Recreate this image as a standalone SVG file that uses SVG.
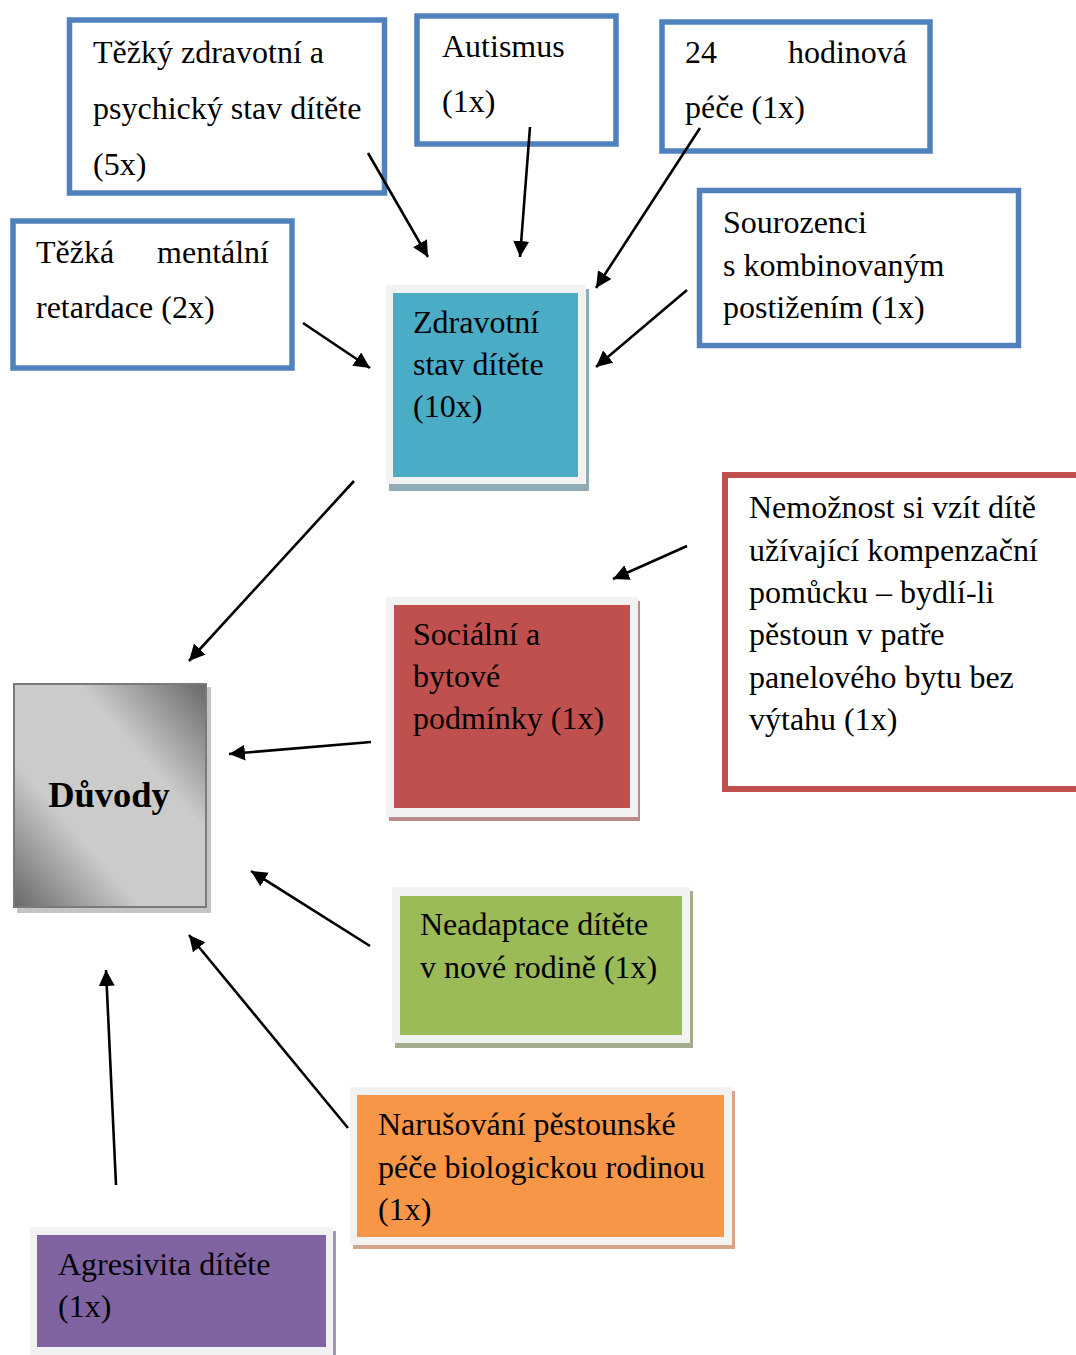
<svg xmlns="http://www.w3.org/2000/svg" width="1076" height="1355" viewBox="0 0 1076 1355">
  <style>
    text { font-family: "Liberation Serif", "Times New Roman", serif; font-size: 32px; fill: #000; }
    .outline-blue { fill: #fff; stroke: #4f81bd; stroke-width: 5.5; }
    .outline-red { fill: #fff; stroke: #c0504d; stroke-width: 6; }
    .frame { fill: #f2f2f2; }
    .conn { stroke: #000; stroke-width: 2.6; fill: none; marker-end: url(#arrow); }
    .title { font-size: 36.5px; font-weight: bold; text-anchor: middle; }
  </style>
  <defs>
    <marker id="arrow" markerUnits="userSpaceOnUse" markerWidth="17" markerHeight="17" refX="16" refY="8" orient="auto">
      <path d="M0,0 L16,8 L0,16 z" fill="#000"/>
    </marker>
    <linearGradient id="grayDiag" x1="1" y1="0" x2="0" y2="1">
      <stop offset="0" stop-color="#686868"/>
      <stop offset="0.33" stop-color="#cbcbcb"/>
      <stop offset="0.67" stop-color="#cbcbcb"/>
      <stop offset="1" stop-color="#686868"/>
    </linearGradient>
  </defs>

  <rect width="1076" height="1355" fill="#fff"/>

  <!-- outlined cause boxes -->
  <g id="node-tezky-stav">
    <rect class="outline-blue" x="69.5" y="20" width="315" height="173"/>
    <text x="93" y="63">Těžký zdravotní a</text>
    <text x="93" y="119">psychický stav dítěte</text>
    <text x="93" y="175">(5x)</text>
  </g>
  <g id="node-autismus">
    <rect class="outline-blue" x="417" y="16" width="199" height="128"/>
    <text x="442" y="57">Autismus</text>
    <text x="442" y="112">(1x)</text>
  </g>
  <g id="node-24-hodin">
    <rect class="outline-blue" x="662" y="22" width="268" height="129"/>
    <text x="685" y="63">24</text>
    <text x="907" y="63" text-anchor="end">hodinová</text>
    <text x="685" y="118">péče (1x)</text>
  </g>
  <g id="node-mentalni-retardace">
    <rect class="outline-blue" x="13" y="221" width="279" height="147"/>
    <text x="36" y="263">Těžká</text>
    <text x="269" y="263" text-anchor="end">mentální</text>
    <text x="36" y="318">retardace (2x)</text>
  </g>
  <g id="node-sourozenci">
    <rect class="outline-blue" x="699.5" y="190.5" width="319" height="155"/>
    <text x="723" y="233">Sourozenci</text>
    <text x="723" y="276">s kombinovaným</text>
    <text x="723" y="318">postižením (1x)</text>
  </g>
  <g id="node-kompenzacni-pomucka">
    <rect class="outline-red" x="725" y="475" width="360" height="314"/>
    <text x="749" y="518">Nemožnost si vzít dítě</text>
    <text x="749" y="561">užívající kompenzační</text>
    <text x="749" y="603">pomůcku – bydlí-li</text>
    <text x="749" y="645">pěstoun v patře</text>
    <text x="749" y="688">panelového bytu bez</text>
    <text x="749" y="730">výtahu (1x)</text>
  </g>

  <!-- filled category boxes -->
  <g id="node-zdravotni-stav">
    <rect x="389" y="289" width="200" height="202" fill="#8fabb5"/>
    <rect class="frame" x="386" y="285" width="200" height="199"/>
    <rect x="393" y="293" width="185" height="184" fill="#4bacc6"/>
    <text x="413" y="333">Zdravotní</text>
    <text x="413" y="375">stav dítěte</text>
    <text x="413" y="417">(10x)</text>
  </g>
  <g id="node-socialni">
    <rect x="389" y="601" width="251" height="220" fill="#b98b8b"/>
    <rect class="frame" x="386" y="597" width="252" height="220"/>
    <rect x="394" y="605" width="236" height="203" fill="#c0504d"/>
    <text x="413" y="645">Sociální a</text>
    <text x="413" y="687">bytové</text>
    <text x="413" y="729">podmínky (1x)</text>
  </g>
  <g id="node-neadaptace">
    <rect x="395" y="891" width="298" height="157" fill="#a3ac8c"/>
    <rect class="frame" x="392" y="887" width="298" height="156"/>
    <rect x="400" y="896" width="282" height="139" fill="#9bbb59"/>
    <text x="420" y="935">Neadaptace dítěte</text>
    <text x="420" y="978">v nové rodině (1x)</text>
  </g>
  <g id="node-narusovani">
    <rect x="353" y="1091" width="382" height="158" fill="#d4a58a"/>
    <rect class="frame" x="350" y="1087" width="382" height="158"/>
    <rect x="357" y="1095" width="367" height="142" fill="#f79646"/>
    <text x="378" y="1135">Narušování pěstounské</text>
    <text x="378" y="1178">péče biologickou rodinou</text>
    <text x="378" y="1220">(1x)</text>
  </g>
  <g id="node-agresivita">
    <rect x="33" y="1231" width="303" height="130" fill="#a299b0"/>
    <rect class="frame" x="30" y="1227" width="303" height="130"/>
    <rect x="37" y="1235" width="289" height="112" fill="#8064a2"/>
    <text x="58" y="1275">Agresivita dítěte</text>
    <text x="58" y="1317">(1x)</text>
  </g>

  <!-- central node -->
  <g id="node-duvody">
    <rect x="17" y="687" width="194" height="226" fill="#c4c4c4"/>
    <rect x="14" y="684" width="192" height="223" fill="url(#grayDiag)" stroke="#7a7a7a" stroke-width="2"/>
    <text class="title" x="109" y="807">Důvody</text>
  </g>

  <!-- connectors -->
  <g id="connectors">
    <path class="conn" d="M368,153 L428,257"/>
    <path class="conn" d="M530,127 L520,257"/>
    <path class="conn" d="M700,128 L596,288"/>
    <path class="conn" d="M303,323 L370,368"/>
    <path class="conn" d="M687,290 L596,367"/>
    <path class="conn" d="M354,481 L189,661"/>
    <path class="conn" d="M687,546 L613,579"/>
    <path class="conn" d="M371,742 L229,754"/>
    <path class="conn" d="M370,946 L251,871"/>
    <path class="conn" d="M348,1128 L189,935"/>
    <path class="conn" d="M116,1185 L106,970"/>
  </g>
</svg>
